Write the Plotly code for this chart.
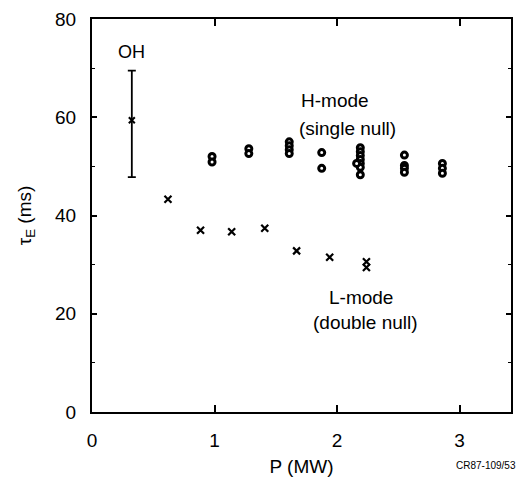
import plotly.graph_objects as go

# H-mode (single null) data: P (MW), tau_E (ms)
h_p = [0.98, 0.98, 1.28, 1.28, 1.61, 1.61, 1.61, 1.61, 1.875, 1.875,
       2.19, 2.19, 2.19, 2.19, 2.19, 2.19, 2.19, 2.16,
       2.55, 2.55, 2.55, 2.55, 2.86, 2.86, 2.86]
h_tau = [52.0, 50.9, 53.6, 52.6, 55.0, 54.2, 53.4, 52.6, 52.8, 49.6,
         53.8, 53.0, 52.2, 51.4, 50.6, 49.8, 48.3, 50.6,
         52.3, 50.2, 49.6, 48.8, 50.6, 49.6, 48.6]

# L-mode (double null) data
l_p = [0.62, 0.886, 1.14, 1.41, 1.67, 1.94, 2.24, 2.24]
l_tau = [43.3, 37.0, 36.7, 37.4, 32.8, 31.5, 30.6, 29.4]

# OH point with error bar
oh_p = [0.325]
oh_tau = [59.4]
oh_err_plus = [10.1]
oh_err_minus = [11.6]

x_ticks = [0, 1, 2, 3]
y_ticks = [0, 20, 40, 60, 80]

FONT = "Liberation Sans, Arial, sans-serif"

fig = go.Figure()

fig.add_trace(go.Scatter(
    x=h_p, y=h_tau, mode="markers", name="H-mode",
    marker=dict(symbol="circle", size=6, color="white",
                line=dict(color="black", width=3)),
    showlegend=False,
))

fig.add_trace(go.Scatter(
    x=l_p, y=l_tau, mode="markers", name="L-mode",
    marker=dict(symbol="x-thin", size=7,
                line=dict(color="black", width=2.2)),
    showlegend=False,
))

fig.add_trace(go.Scatter(
    x=oh_p, y=oh_tau, mode="markers", name="OH",
    marker=dict(symbol="x-thin", size=6,
                line=dict(color="black", width=2)),
    error_y=dict(type="data", symmetric=False, array=oh_err_plus,
                 arrayminus=oh_err_minus, color="black",
                 thickness=1.8, width=4),
    showlegend=False,
))

annotations = [
    dict(x=0.325, y=73.2, text="OH", showarrow=False,
         font=dict(size=18, color="black", family=FONT)),
    dict(x=1.69, y=63.5, text="H-mode", showarrow=False, xanchor="left",
         font=dict(size=19, color="black", family=FONT)),
    dict(x=1.67, y=57.7, text="(single null)", showarrow=False, xanchor="left",
         font=dict(size=19, color="black", family=FONT)),
    dict(x=1.92, y=23.4, text="L-mode", showarrow=False, xanchor="left",
         font=dict(size=19, color="black", family=FONT)),
    dict(x=1.79, y=18.3, text="(double null)", showarrow=False, xanchor="left",
         font=dict(size=19, color="black", family=FONT)),
    dict(x=1.017, y=-0.154, xref="paper", yref="paper", xanchor="right",
         text="CR87-109/53", showarrow=False,
         font=dict(size=10, color="black", family=FONT)),
]

fig.update_layout(
    width=522, height=484,
    margin=dict(l=92, r=9, t=15, b=72),
    paper_bgcolor="white", plot_bgcolor="white",
    font=dict(family=FONT, color="black", size=19),
    annotations=annotations,
)

fig.update_xaxes(
    range=[0, 3.42], tickvals=x_ticks, ticktext=[str(v) for v in x_ticks],
    ticks="inside", ticklen=7, tickwidth=1.5, tickcolor="black",
    showline=True, linecolor="black", linewidth=2, mirror="ticks",
    showgrid=False, zeroline=False,
    tickfont=dict(size=19, family=FONT), ticklabelstandoff=10,
    title=dict(text="P (MW)", font=dict(size=19, family=FONT), standoff=10),
)

fig.update_yaxes(
    range=[0, 80], tickvals=y_ticks, ticktext=[str(v) for v in y_ticks],
    ticks="inside", ticklen=5, tickwidth=1.5, tickcolor="black",
    minor=dict(tickvals=[10, 30, 50, 70], ticks="inside", ticklen=3,
               tickcolor="black", tickwidth=1),
    showline=True, linecolor="black", linewidth=2, mirror="ticks",
    showgrid=False, zeroline=False,
    tickfont=dict(size=19, family=FONT), ticklabelstandoff=10,
    title=dict(text="τ<sub>E</sub> (ms)", font=dict(size=19, family=FONT), standoff=18),
)

fig.write_html("out.html")
